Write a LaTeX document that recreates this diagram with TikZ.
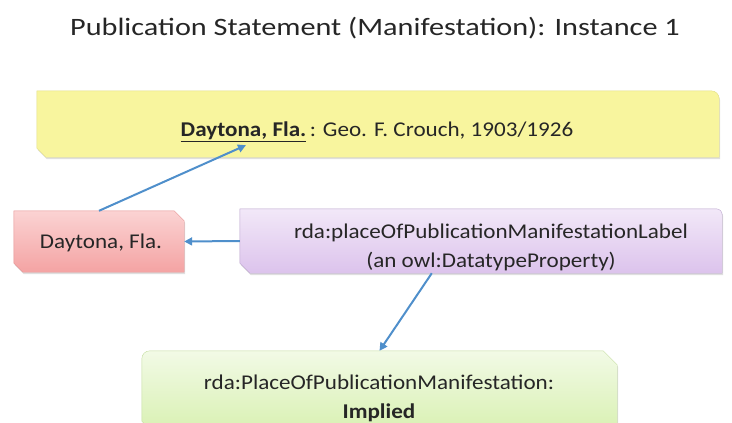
\documentclass[tikz,border=0pt]{standalone}
\usepackage{fontspec}
\setmainfont{Carlito}[FakeStretch=1.10]
\newfontfamily\titlefont{Carlito}[FakeStretch=1.21]
\usetikzlibrary{arrows.meta,shadows,calc}
\definecolor{yelfill}{HTML}{F8F59E}
\definecolor{yeldraw}{HTML}{E2DE86}
\definecolor{redtop}{HTML}{FBD3D3}
\definecolor{redbot}{HTML}{F4A3A3}
\definecolor{reddraw}{HTML}{E49090}
\definecolor{purtop}{HTML}{F2E8F8}
\definecolor{purbot}{HTML}{DCC3EC}
\definecolor{purdraw}{HTML}{B9A2CC}
\definecolor{grntop}{HTML}{F2FAE6}
\definecolor{grnbot}{HTML}{D9F1B3}
\definecolor{grndraw}{HTML}{C4DDA0}
\definecolor{arrowblue}{HTML}{4F8FCB}
\tikzset{
  boxgeom/.style={inner sep=0pt, draw=none},
  txt/.style={inner sep=0pt, draw=none, align=center, font=\fontsize{21}{29}\selectfont, text=black!85},
  shapeshadow/.style={drop shadow={opacity=0.25, shadow xshift=1pt, shadow yshift=-2pt}},
  conn/.style={draw=arrowblue, line width=2pt, -{Triangle[length=8pt,width=8pt]}},
}
\begin{document}
\begin{tikzpicture}[x=1pt,y=-1pt]
\useasboundingbox (0,0) rectangle (732,423);
\clip (0,0) rectangle (732,423);
% title
\node[inner sep=0pt, font=\titlefont\fontsize{25}{30}\selectfont, text=black!85] (title) at (375,28) {Publication Statement (Manifestation): Instance 1};
% box geometry
\node[boxgeom, minimum width=682pt, minimum height=66pt] (yel) at (378,124) {};
\node[boxgeom, minimum width=170pt, minimum height=61pt] (red) at (99,241.5) {};
\node[boxgeom, minimum width=482pt, minimum height=64pt] (pur) at (481,241) {};
\node[boxgeom, minimum width=475pt, minimum height=79pt] (grn) at (379.5,390.5) {};
% yellow
\path[fill=yelfill, draw=yeldraw, shapeshadow]
  (yel.north west) -- ([xshift=-8pt]yel.north east) arc[start angle=90, end angle=0, radius=8pt]
  -- (yel.south east) -- ([xshift=9pt]yel.south west) -- ([yshift=9pt]yel.south west) -- cycle;
\node[txt] (yeltext) at (377,131.5)
  {\textbf{\underline{Daytona, Fla.}}\,: Geo. F. Crouch, 1903/1926};
% red
\path[top color=redtop, bottom color=redbot, draw=reddraw, shapeshadow]
  (red.north west) -- ([xshift=-10pt]red.north east) -- ([yshift=-10pt]red.north east)
  -- (red.south east) -- ([xshift=9pt]red.south west) -- ([yshift=9pt]red.south west) -- cycle;
\node[txt] (redtext) at (101,243) {Daytona, Fla.};
% purple
\path[top color=purtop, bottom color=purbot, draw=purdraw, shapeshadow]
  (pur.north west) -- ([xshift=-6pt]pur.north east) arc[start angle=90, end angle=0, radius=6pt]
  -- (pur.south east) -- ([xshift=10pt]pur.south west) -- ([yshift=10pt]pur.south west) -- cycle;
\node[txt] (purtext) at (491,247.5)
  {rda:placeOfPublicationManifestationLabel\\(an owl:DatatypeProperty)};
% green
\path[top color=grntop, bottom color=grnbot, draw=grndraw, shapeshadow]
  ([xshift=8pt]grn.north west) -- ([xshift=-14pt]grn.north east) -- ([yshift=-14pt]grn.north east)
  -- (grn.south east) -- ([xshift=9pt]grn.south west) -- ([yshift=9pt]grn.south west)
  -- ([yshift=-8pt]grn.north west) arc[start angle=180, end angle=90, radius=8pt] -- cycle;
\node[txt] (grntext) at (379,398.5)
  {rda:PlaceOfPublicationManifestation:\\\textbf{Implied}};
% connectors
\coordinate (yeltip) at ($(yel.south west)!0.3065!(yel.south east)+(0,-12)$);
\draw[conn] (red.north) -- (yeltip);
\draw[conn] (pur.west) -- (red.east);
\draw[conn] ($(pur.south west)!0.398!(pur.south east)$) -- (grn.north);
\end{tikzpicture}
\end{document}
